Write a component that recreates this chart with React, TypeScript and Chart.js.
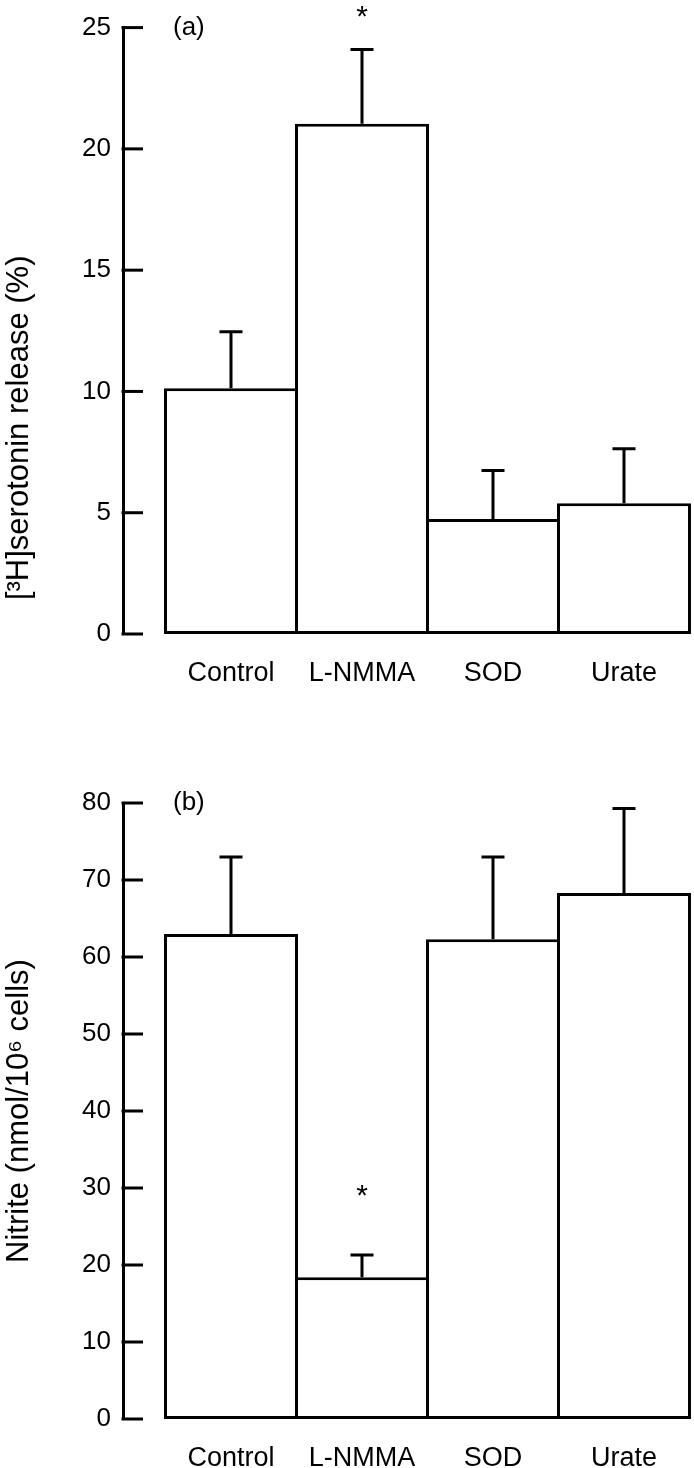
import React, { useEffect, useRef } from 'react';
import { Chart, registerables } from 'chart.js';

Chart.register(...registerables);

const categories = ['Control', 'L-NMMA', 'SOD', 'Urate'];
const categoryIndex = [0, 1, 2, 3];

const serotoninMeans = [10.13, 21.04, 4.74, 5.39];
const serotoninErrors = [2.33, 3.06, 2.0, 2.25];
const serotoninMarks = ['', '*', '', ''];
const serotoninMax = 25;
const serotoninStep = 5;

const nitriteMeans = [63.0, 18.4, 62.3, 68.3];
const nitriteErrors = [10.0, 2.9, 10.7, 11.0];
const nitriteMarks = ['', '*', '', ''];
const nitriteMax = 80;
const nitriteStep = 10;

const FONT = '"Liberation Sans", Arial, Helvetica, sans-serif';

type PanelProps = {
  width: number;
  height: number;
  top: number;
  padTop: number;
  xHeight: number;
  means: number[];
  errors: number[];
  marks: string[];
  yMax: number;
  yStep: number;
  yTitle: string;
  yTitleCenter: number;
  panelLabel: string;
  starOffset: number;
};

function Panel(p: PanelProps) {
  const ref = useRef<HTMLCanvasElement | null>(null);
  useEffect(() => {
    if (!ref.current) return;
    const decor = {
      id: 'panelDecor',
      afterDatasetsDraw(chart: any) {
        const ctx = chart.ctx;
        const { left, top } = chart.chartArea;
        const y = chart.scales.y;
        ctx.save();
        ctx.strokeStyle = '#000';
        ctx.fillStyle = '#000';
        ctx.lineWidth = 3;
        ctx.lineCap = 'butt';
        // inward tick marks
        y.ticks.forEach((t: any) => {
          const py = y.getPixelForValue(t.value);
          ctx.beginPath();
          ctx.moveTo(left - 1.5, py);
          ctx.lineTo(left + 20, py);
          ctx.stroke();
        });
        // error bars (upper only) and significance marks
        const meta = chart.getDatasetMeta(0);
        meta.data.forEach((bar: any, i: number) => {
          const topPx = y.getPixelForValue(p.means[i] + p.errors[i]);
          ctx.beginPath();
          ctx.moveTo(bar.x, bar.y);
          ctx.lineTo(bar.x, topPx);
          ctx.moveTo(bar.x - 11.5, topPx);
          ctx.lineTo(bar.x + 11.5, topPx);
          ctx.stroke();
          if (p.marks[i]) {
            ctx.font = `30px ${FONT}`;
            ctx.textAlign = 'center';
            ctx.textBaseline = 'alphabetic';
            ctx.fillText(p.marks[i], bar.x, topPx - p.starOffset);
          }
        });
        // panel label
        ctx.font = `26px ${FONT}`;
        ctx.textAlign = 'left';
        ctx.textBaseline = 'middle';
        ctx.fillText(p.panelLabel, left + 50, top);
        // y axis title
        ctx.translate(19, y.getPixelForValue(p.yTitleCenter));
        ctx.rotate(-Math.PI / 2);
        ctx.font = `31px ${FONT}`;
        ctx.textAlign = 'center';
        ctx.textBaseline = 'middle';
        ctx.fillText(p.yTitle, 0, 0);
        ctx.restore();
      },
    };
    const chart = new Chart(ref.current, {
      type: 'bar',
      data: {
        datasets: [
          {
            data: p.means.map((v, i) => ({ x: categoryIndex[i], y: v })),
            backgroundColor: '#ffffff',
            borderColor: '#000000',
            borderWidth: 3,
            borderSkipped: false,
            categoryPercentage: 1,
            barPercentage: 1.0229,
          },
        ],
      },
      options: {
        responsive: false,
        animation: false,
        devicePixelRatio: 1,
        layout: { padding: { top: p.padTop, left: 0, right: 3, bottom: 0 } },
        plugins: {
          legend: { display: false },
          tooltip: { enabled: false },
        },
        scales: {
          x: {
            type: 'linear',
            offset: false,
            min: -0.8244,
            max: 3.5115,
            grid: { display: false, drawTicks: false, offset: false },
            border: { display: false },
            ticks: {
              stepSize: 1,
              includeBounds: false,
              autoSkip: false,
              maxRotation: 0,
              padding: 23,
              color: '#000',
              font: { family: FONT, size: 27 },
              callback: (v: any) => categories[v] ?? '',
            },
            afterFit: (s: any) => {
              s.height = p.xHeight;
            },
          },
          y: {
            min: 0,
            max: p.yMax,
            grid: { display: false, drawTicks: false },
            border: { display: true, color: '#000', width: 3 },
            ticks: {
              stepSize: p.yStep,
              padding: 12,
              color: '#000',
              font: { family: FONT, size: 26 },
            },
            afterFit: (s: any) => {
              s.width = 123;
            },
          },
        },
      },
      plugins: [decor],
    } as any);
    return () => chart.destroy();
  }, []);
  return (
    <canvas
      ref={ref}
      width={p.width}
      height={p.height}
      style={{ position: 'absolute', left: 0, top: p.top, width: p.width, height: p.height, display: 'block' }}
    />
  );
}

export default function App() {
  return (
    <div style={{ position: 'absolute', left: 0, top: 0, width: 694, height: 1468, overflow: 'hidden', background: '#fff' }}>
      <Panel
        width={694}
        height={690}
        top={0}
        padTop={22}
        xHeight={56}
        means={serotoninMeans}
        errors={serotoninErrors}
        marks={serotoninMarks}
        yMax={serotoninMax}
        yStep={serotoninStep}
        yTitle={'[\u00B3H]serotonin release (%)'}
        yTitleCenter={8.5}
        panelLabel="(a)"
        starOffset={23}
      />
      <Panel
        width={694}
        height={778}
        top={690}
        padTop={113}
        xHeight={49}
        means={nitriteMeans}
        errors={nitriteErrors}
        marks={nitriteMarks}
        yMax={nitriteMax}
        yStep={nitriteStep}
        yTitle={'Nitrite (nmol/10\u2076 cells)'}
        yTitleCenter={40}
        panelLabel="(b)"
        starOffset={50}
      />
    </div>
  );
}
